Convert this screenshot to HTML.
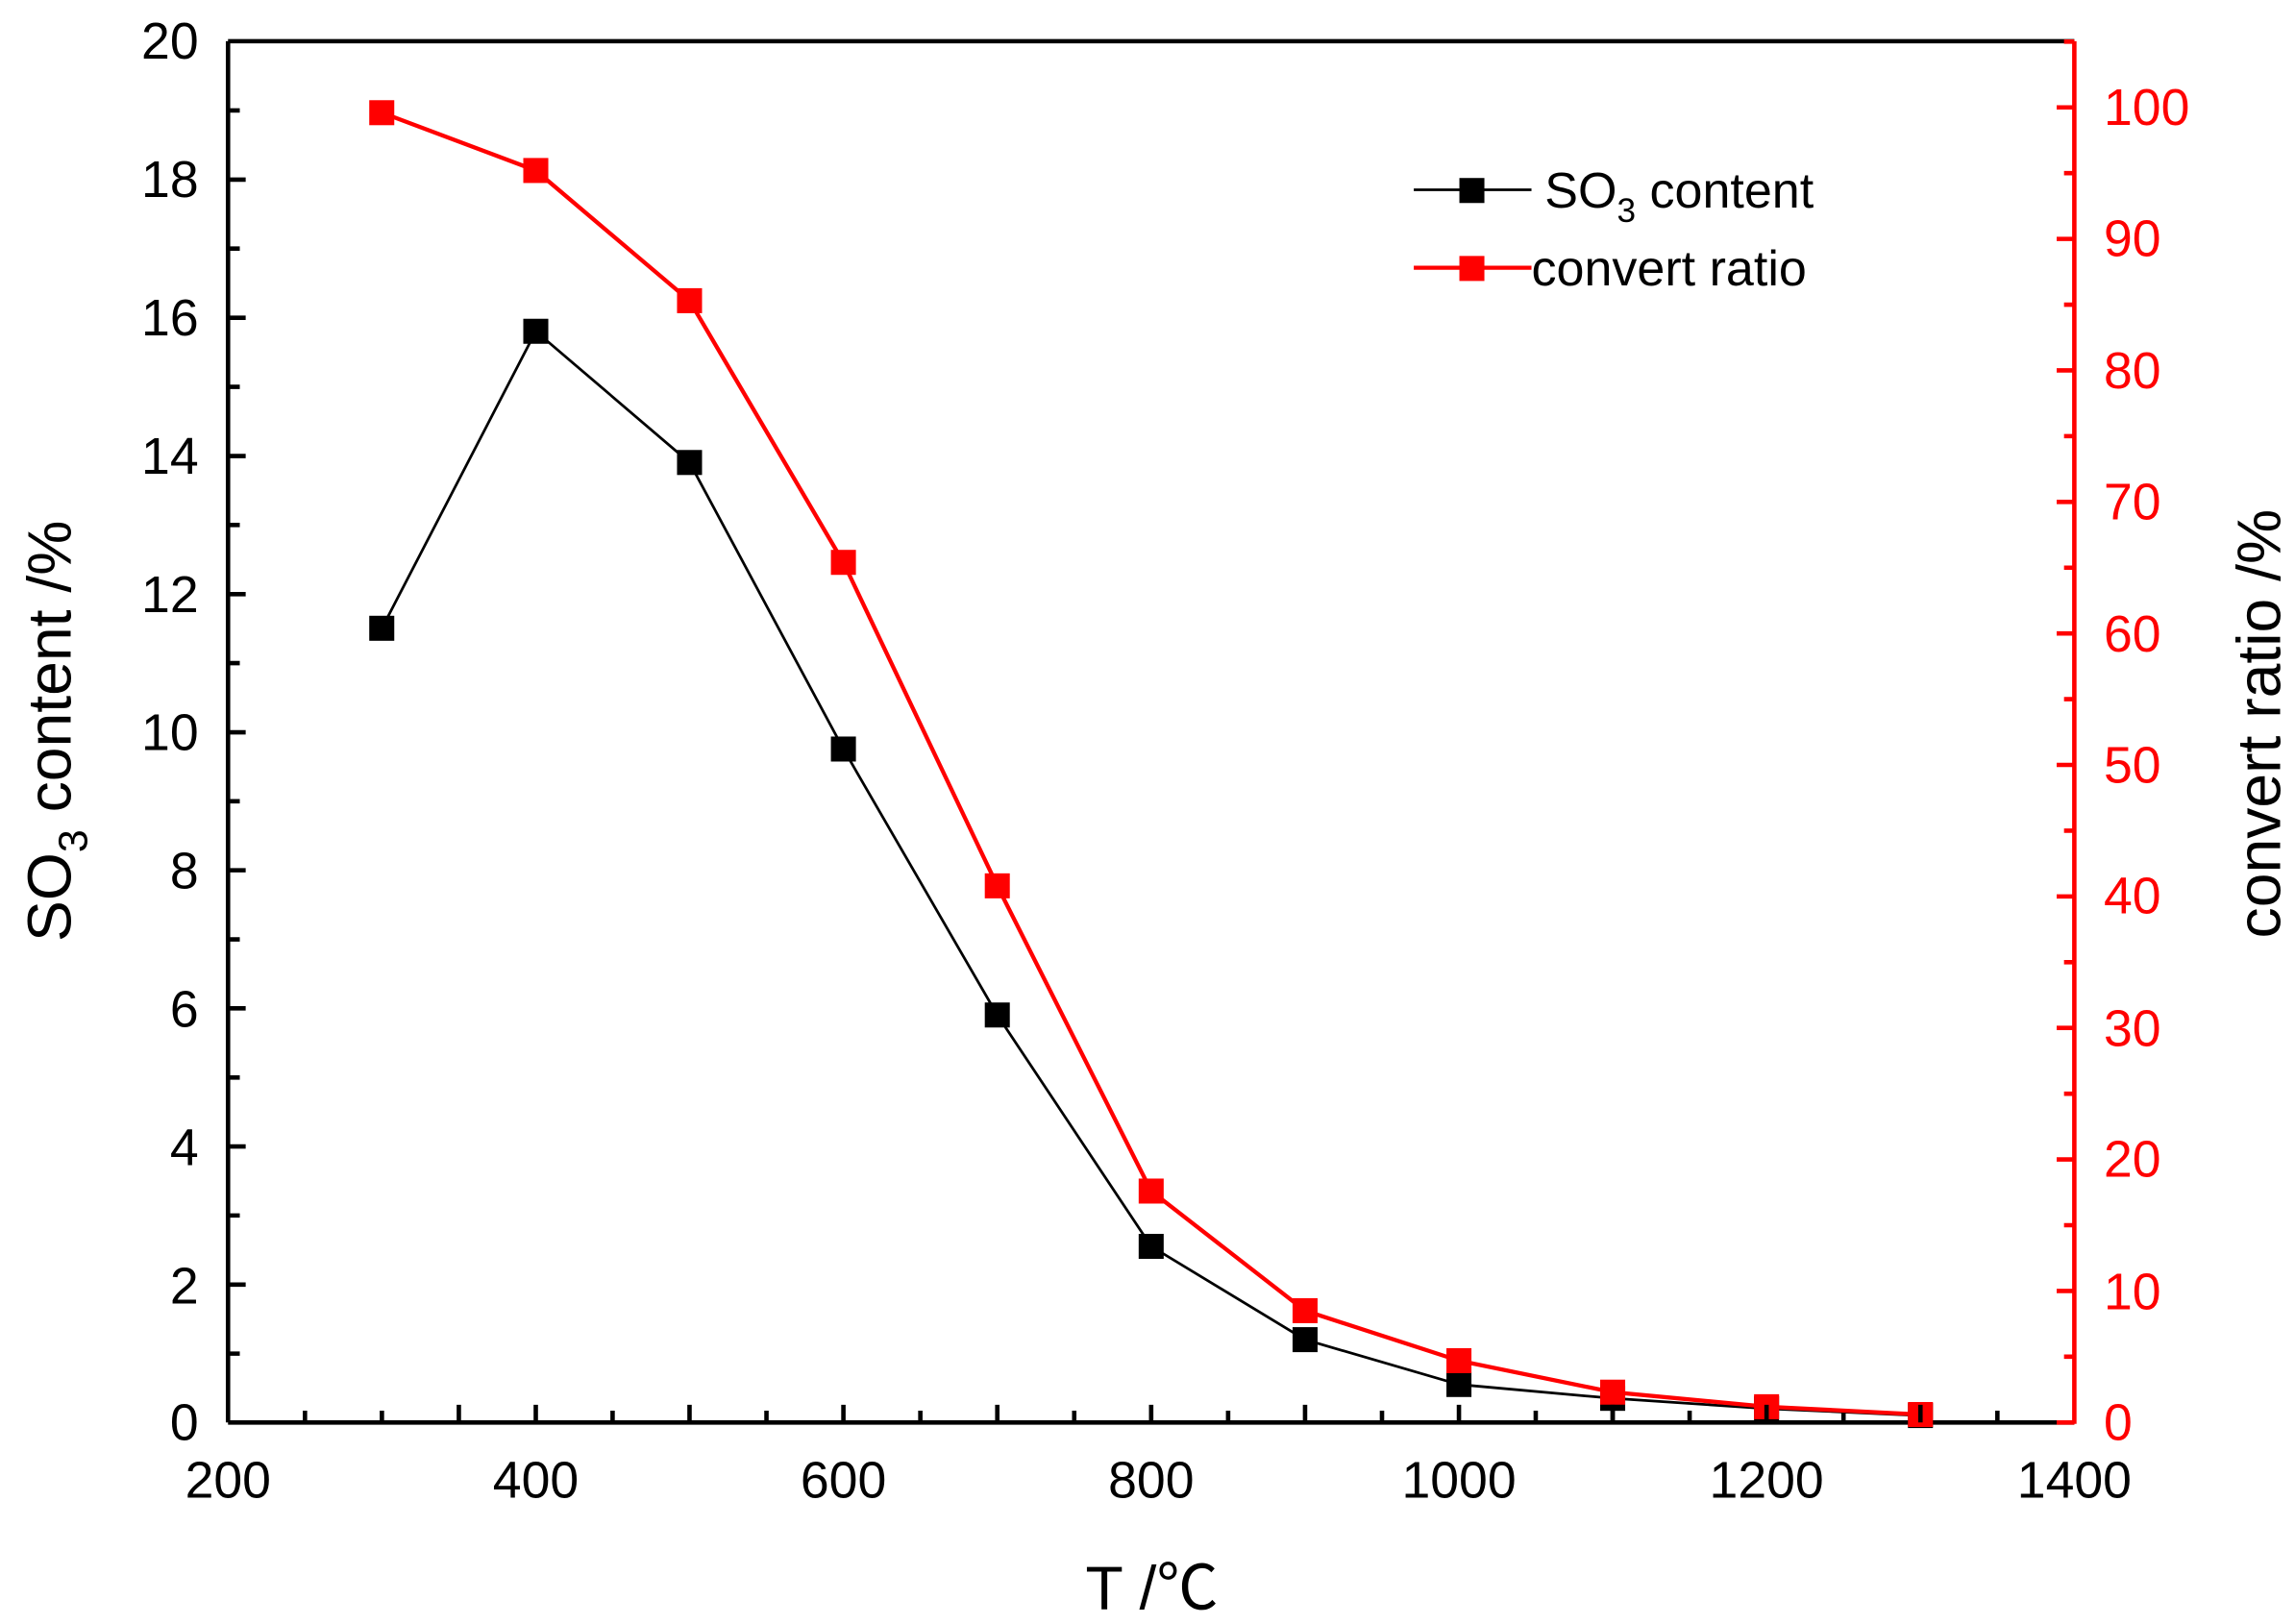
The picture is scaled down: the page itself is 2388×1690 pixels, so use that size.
<!DOCTYPE html>
<html><head><meta charset="utf-8"><style>html,body{margin:0;padding:0;background:#fff}svg{display:block}</style></head>
<body>
<svg width="2388" height="1690" viewBox="0 0 1560 1104" xmlns="http://www.w3.org/2000/svg" font-family="Liberation Sans, Arial, sans-serif">
<rect width="1560" height="1104" fill="#fff"/>
<g stroke="#000" stroke-width="3" fill="none">
<line x1="155" y1="28" x2="1410" y2="28"/>
<line x1="155" y1="28" x2="155" y2="967"/>
<line x1="155" y1="967" x2="1410" y2="967"/>
<path d="M155 75.1h8M155 122.1h12M155 169h8M155 216h12M155 263h8M155 310h12M155 356.9h8M155 403.9h12M155 450.8h8M155 497.8h12M155 544.7h8M155 591.6h12M155 638.6h8M155 685.5h12M155 732.5h8M155 779.4h12M155 826.3h8M155 873.3h12M155 920.2h8"/>
<path d="M207.3 967v-8M259.6 967v-8M311.9 967v-12M364.2 967v-12M416.4 967v-8M468.7 967v-12M521 967v-8M573.3 967v-12M625.6 967v-8M677.9 967v-12M730.2 967v-8M782.5 967v-12M834.8 967v-8M887.1 967v-12M939.4 967v-8M991.7 967v-12M1043.9 967v-8M1096.2 967v-12M1148.5 967v-8M1200.8 967v-12M1253.1 967v-8M1305.4 967v-12M1357.7 967v-8"/>
</g>
<g stroke="#f00" stroke-width="3" fill="none">
<line x1="1410" y1="28" x2="1410" y2="968"/>
<path d="M1410 967h-12M1410 922.3h-7M1410 877.6h-12M1410 832.9h-7M1410 788.2h-12M1410 743.5h-7M1410 698.8h-12M1410 654.1h-7M1410 609.4h-12M1410 564.7h-7M1410 520h-12M1410 475.3h-7M1410 430.6h-12M1410 385.9h-7M1410 341.2h-12M1410 296.5h-7M1410 251.8h-12M1410 207.1h-7M1410 162.4h-12M1410 117.7h-7M1410 73h-12M1410 28.3h-7"/>
</g>
<g font-size="35" text-anchor="end" fill="#000">
<text x="135" y="40">20</text><text x="135" y="134">18</text><text x="135" y="228">16</text><text x="135" y="322">14</text><text x="135" y="416">12</text><text x="135" y="510">10</text><text x="135" y="604">8</text><text x="135" y="698">6</text><text x="135" y="792">4</text><text x="135" y="886">2</text><text x="135" y="979">0</text>
</g>
<g font-size="35" text-anchor="middle" fill="#000">
<text x="155" y="1018">200</text><text x="364.2" y="1018">400</text><text x="573.3" y="1018">600</text><text x="782.5" y="1018">800</text><text x="991.7" y="1018">1000</text><text x="1200.8" y="1018">1200</text><text x="1410" y="1018">1400</text>
</g>
<g font-size="35" fill="#f00">
<text x="1430" y="979">0</text><text x="1430" y="890">10</text><text x="1430" y="800">20</text><text x="1430" y="711">30</text><text x="1430" y="621">40</text><text x="1430" y="532">50</text><text x="1430" y="443">60</text><text x="1430" y="353">70</text><text x="1430" y="264">80</text><text x="1430" y="174">90</text><text x="1430" y="85">100</text>
</g>
<text x="783" y="1094" font-size="42" text-anchor="middle" fill="#000">T /<tspan font-family="Noto Sans CJK SC, sans-serif">℃</tspan></text>
<text transform="translate(48,497) rotate(-90)" font-size="42" text-anchor="middle" fill="#000">SO<tspan font-size="28" dy="11">3</tspan><tspan dy="-11"> content /%</tspan></text>
<text transform="translate(1550,492) rotate(-90)" font-size="42" text-anchor="middle" fill="#000">convert ratio /%</text>
<polyline fill="none" stroke="#000" stroke-width="1.8" points="259.6,427.1 364.2,225.2 468.7,314.4 573.3,509.2 677.9,690 782.5,847.3 887.1,910.7 991.7,941.2 1096.2,950.6 1200.8,957.6 1305.4,962.3"/>
<g fill="#000">
<rect x="251" y="418.6" width="17" height="17"/><rect x="355.7" y="216.7" width="17" height="17"/><rect x="460.2" y="305.9" width="17" height="17"/><rect x="564.8" y="500.7" width="17" height="17"/><rect x="669.4" y="681.5" width="17" height="17"/><rect x="774" y="838.8" width="17" height="17"/><rect x="878.6" y="902.2" width="17" height="17"/><rect x="983.2" y="932.7" width="17" height="17"/><rect x="1087.7" y="942.1" width="17" height="17"/><rect x="1192.3" y="949.1" width="17" height="17"/><rect x="1296.9" y="953.8" width="17" height="17"/>
</g>
<polyline fill="none" stroke="#f00" stroke-width="2.8" points="259.6,76.6 364.2,115.9 468.7,204.4 573.3,382.3 677.9,602.2 782.5,809.7 887.1,891 991.7,925 1096.2,946.4 1200.8,956.3 1305.4,961.6"/>
<g fill="#f00">
<rect x="251" y="68.1" width="17" height="17"/><rect x="355.7" y="107.4" width="17" height="17"/><rect x="460.2" y="195.9" width="17" height="17"/><rect x="564.8" y="373.8" width="17" height="17"/><rect x="669.4" y="593.7" width="17" height="17"/><rect x="774" y="801.2" width="17" height="17"/><rect x="878.6" y="882.5" width="17" height="17"/><rect x="983.2" y="916.5" width="17" height="17"/><rect x="1087.7" y="937.9" width="17" height="17"/><rect x="1192.3" y="947.8" width="17" height="17"/><rect x="1296.9" y="953.1" width="17" height="17"/>
</g>
<g stroke="#000" stroke-width="3"><path d="M1096.2 967v-12M1200.8 967v-12M1305.4 967v-12"/></g>
<line x1="961" y1="129" x2="1041" y2="129" stroke="#000" stroke-width="1.8"/>
<rect x="992" y="121" width="17" height="17" fill="#000"/>
<text x="1050" y="141" font-size="34" fill="#000">SO<tspan font-size="23" dy="10">3</tspan><tspan dy="-10"> content</tspan></text>
<line x1="961" y1="182" x2="1041" y2="182" stroke="#f00" stroke-width="2.8"/>
<rect x="992" y="174" width="17" height="17" fill="#f00"/>
<text x="1041" y="194" font-size="34" fill="#000">convert ratio</text>
</svg>
</body></html>
